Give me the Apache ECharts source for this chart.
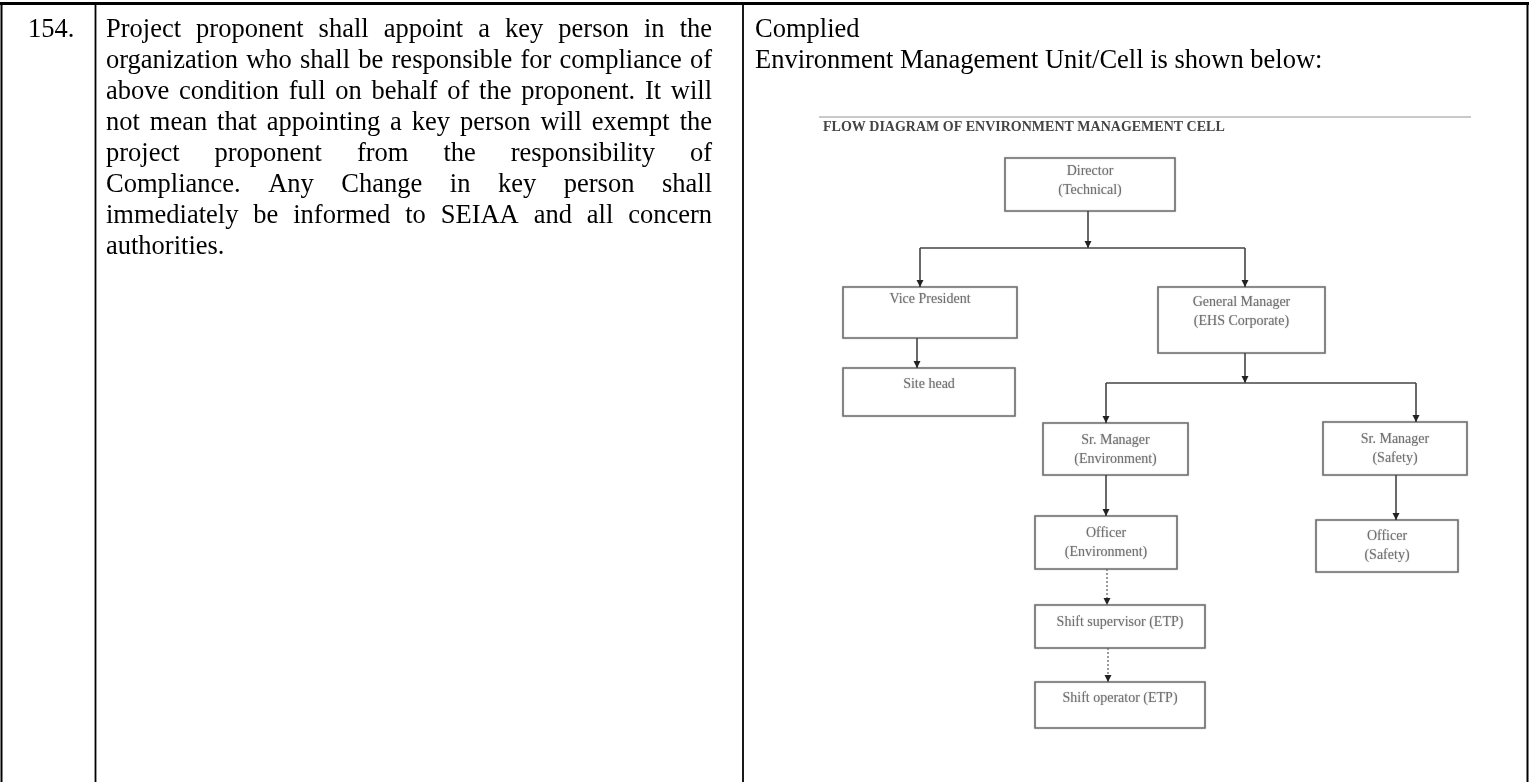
<!DOCTYPE html>
<html><head><meta charset="utf-8">
<script src="https://cdn.jsdelivr.net/npm/echarts/dist/echarts.min.js"></script>
<style>html,body{margin:0;padding:0;background:#fff}#c{width:1529px;height:782px}</style>
</head><body><div id="c"></div>
<script>
// ---------- content ----------
const rowNumber = '154.';
const conditionLines = [
  'Project proponent shall appoint a key person in the',
  'organization who shall be responsible for compliance of',
  'above condition full on behalf of the proponent. It will',
  'not mean that appointing a key person will exempt the',
  'project proponent from the responsibility of',
  'Compliance. Any Change in key person shall',
  'immediately be informed to SEIAA and all concern',
  'authorities.'
];
const complianceLines = ['Complied', 'Environment Management Unit/Cell is shown below:'];
const diagramTitle = 'FLOW DIAGRAM OF ENVIRONMENT MANAGEMENT CELL';
const nodeLabels = [
  'Director\n(Technical)',
  'Vice President',
  'Site head',
  'General Manager\n(EHS Corporate)',
  'Sr. Manager\n(Environment)',
  'Sr. Manager\n(Safety)',
  'Officer\n(Environment)',
  'Officer\n(Safety)',
  'Shift supervisor (ETP)',
  'Shift operator (ETP)'
];
const nodeParents = [-1, 0, 1, 0, 3, 3, 4, 5, 6, 8];

// ---------- layout (positions / sizes, diagram units) ----------
const layout = [
  {l:1005, t:158, w:170, h:53, dy:4, trunkX:1088, busY:248},
  {l:843,  t:287, w:174, h:51, dy:3, entryX:920, trunkX:917},
  {l:843,  t:368, w:172, h:48, dy:7, entryX:917},
  {l:1158, t:287, w:167, h:66, dy:6, entryX:1245, trunkX:1245, busY:383},
  {l:1043, t:423, w:145, h:52, dy:8, entryX:1106, trunkX:1106},
  {l:1323, t:422, w:144, h:53, dy:8, entryX:1416, trunkX:1396},
  {l:1035, t:516, w:142, h:53, dy:8, entryX:1106, trunkX:1107},
  {l:1316, t:520, w:142, h:52, dy:7, entryX:1396},
  {l:1035, t:605, w:170, h:43, dy:8, entryX:1107, trunkX:1108, dotted:true},
  {l:1035, t:682, w:170, h:46, dy:7, entryX:1108, dotted:true}
];

const SERIF = "'Liberation Serif','Times New Roman',serif";
const bodyFont = '26.5px ' + SERIF;
const mctx = document.createElement('canvas').getContext('2d');
function tw(t, font){ mctx.font = font; return mctx.measureText(t).width; }
function txt(t, x, y, font, fill){
  return {type:'text', silent:true, x:x, y:y,
    style:{text:t, x:0, y:0, font:font, fill:fill||'#000', textVerticalAlign:'middle', verticalAlign:'middle'}};
}
function justified(lines, left, right, y0, lh, font){
  const els = [];
  lines.forEach((line, i) => {
    const y = y0 + i*lh;
    const words = line.split(' ');
    if (i === lines.length-1 || words.length < 2){ els.push(txt(line, left, y, font)); return; }
    const ws = words.map(w => tw(w, font));
    const total = ws.reduce((a,b)=>a+b,0);
    const gap = (right-left-total)/(words.length-1);
    let x = left;
    words.forEach((w,j)=>{ els.push(txt(w, x, y, font)); x += ws[j]+gap; });
  });
  return els;
}
function vline(x, y1, y2, w){ return {type:'line', silent:true, shape:{x1:x,y1:y1,x2:x,y2:y2}, style:{stroke:'#000', lineWidth:w}}; }

const LH = 31, Y0 = 30;
const graphics = [
  {type:'line', silent:true, shape:{x1:0,y1:3.5,x2:1529,y2:3.5}, style:{stroke:'#000', lineWidth:3}},
  vline(1.5, 2, 782, 2), vline(95.5, 2, 782, 1.8), vline(743, 2, 782, 1.8), vline(1527.5, 2, 782, 2),
  txt(rowNumber, 28, Y0, bodyFont)
].concat(justified(conditionLines, 106, 712, Y0, LH, bodyFont))
 .concat(complianceLines.map((t,i)=>txt(t, 755, Y0 + i*LH, bodyFont)))
 .concat([
  {type:'line', silent:true, shape:{x1:819,y1:117,x2:1471,y2:117}, style:{stroke:'#c9c9c9', lineWidth:2}},
  txt(diagramTitle, 823, 127, 'bold 14px ' + SERIF, '#444')
 ]);

// ---------- connectors derived from the tree ----------
const connectors = [];
const children = nodeLabels.map(()=>[]);
nodeParents.forEach((p,i)=>{ if (p >= 0) children[p].push(i); });
children.forEach((kids, p) => {
  if (!kids.length) return;
  const P = layout[p];
  if (kids.length > 1){
    connectors.push([P.trunkX, P.t + P.h, P.trunkX, P.busY, 1, 0]);
    const xs = kids.map(k => layout[k].entryX);
    connectors.push([Math.min(...xs), P.busY, Math.max(...xs), P.busY, 0, 0]);
    kids.forEach(k => connectors.push([layout[k].entryX, P.busY, layout[k].entryX, layout[k].t, 1, layout[k].dotted?1:0]));
  } else {
    const k = kids[0];
    connectors.push([layout[k].entryX, P.t + P.h, layout[k].entryX, layout[k].t, 1, layout[k].dotted?1:0]);
  }
});
const boxes = layout.map((b,i)=>[b.l, b.t, b.w, b.h, b.dy, i]);

const option = {
  animation:false,
  grid:{left:0, right:0, top:0, bottom:0},
  xAxis:{type:'value', min:0, max:1529, show:false},
  yAxis:{type:'value', min:0, max:782, inverse:true, show:false},
  graphic: graphics,
  series:[
    {
      type:'custom', silent:true, z:2, data:boxes,
      renderItem:(params, api)=>{
        const a = api.coord([api.value(0), api.value(1)]);
        const b = api.coord([api.value(0)+api.value(2), api.value(1)+api.value(3)]);
        const idx = api.value(5);
        return {type:'group', children:[
          {type:'rect', shape:{x:a[0], y:a[1], width:b[0]-a[0], height:b[1]-a[1]},
           style:{fill:'#fff', stroke:'#6e6e6e', lineWidth:1.6, shadowBlur:2, shadowColor:'rgba(0,0,0,0.18)'}},
          {type:'text', style:{text:nodeLabels[idx], x:(a[0]+b[0])/2, y:a[1]+api.value(4),
            align:'center', verticalAlign:'top', textAlign:'center', textVerticalAlign:'top',
            font:'14px ' + SERIF, fill:'#6f6f6f', lineHeight:19,
            textShadowBlur:1.5, textShadowColor:'rgba(0,0,0,0.25)'}}
        ]};
      }
    },
    {
      type:'custom', silent:true, z:3, data:connectors,
      renderItem:(params, api)=>{
        const p1 = api.coord([api.value(0), api.value(1)]);
        const p2 = api.coord([api.value(2), api.value(3)]);
        const dotted = api.value(5);
        const kids = [{type:'line', shape:{x1:p1[0], y1:p1[1], x2:p2[0], y2:p2[1]},
          style:{stroke: dotted ? '#666' : '#444', lineWidth: dotted ? 1.3 : 1.6, lineDash: dotted ? [2,2] : null}}];
        if (api.value(4)){
          kids.push({type:'polygon', shape:{points:[[p2[0]-3.5,p2[1]-7],[p2[0]+3.5,p2[1]-7],[p2[0],p2[1]]]}, style:{fill:'#222'}});
        }
        return {type:'group', children:kids};
      }
    }
  ]
};
const chart = echarts.init(document.getElementById('c'));
chart.setOption(option);
</script>
</body></html>
